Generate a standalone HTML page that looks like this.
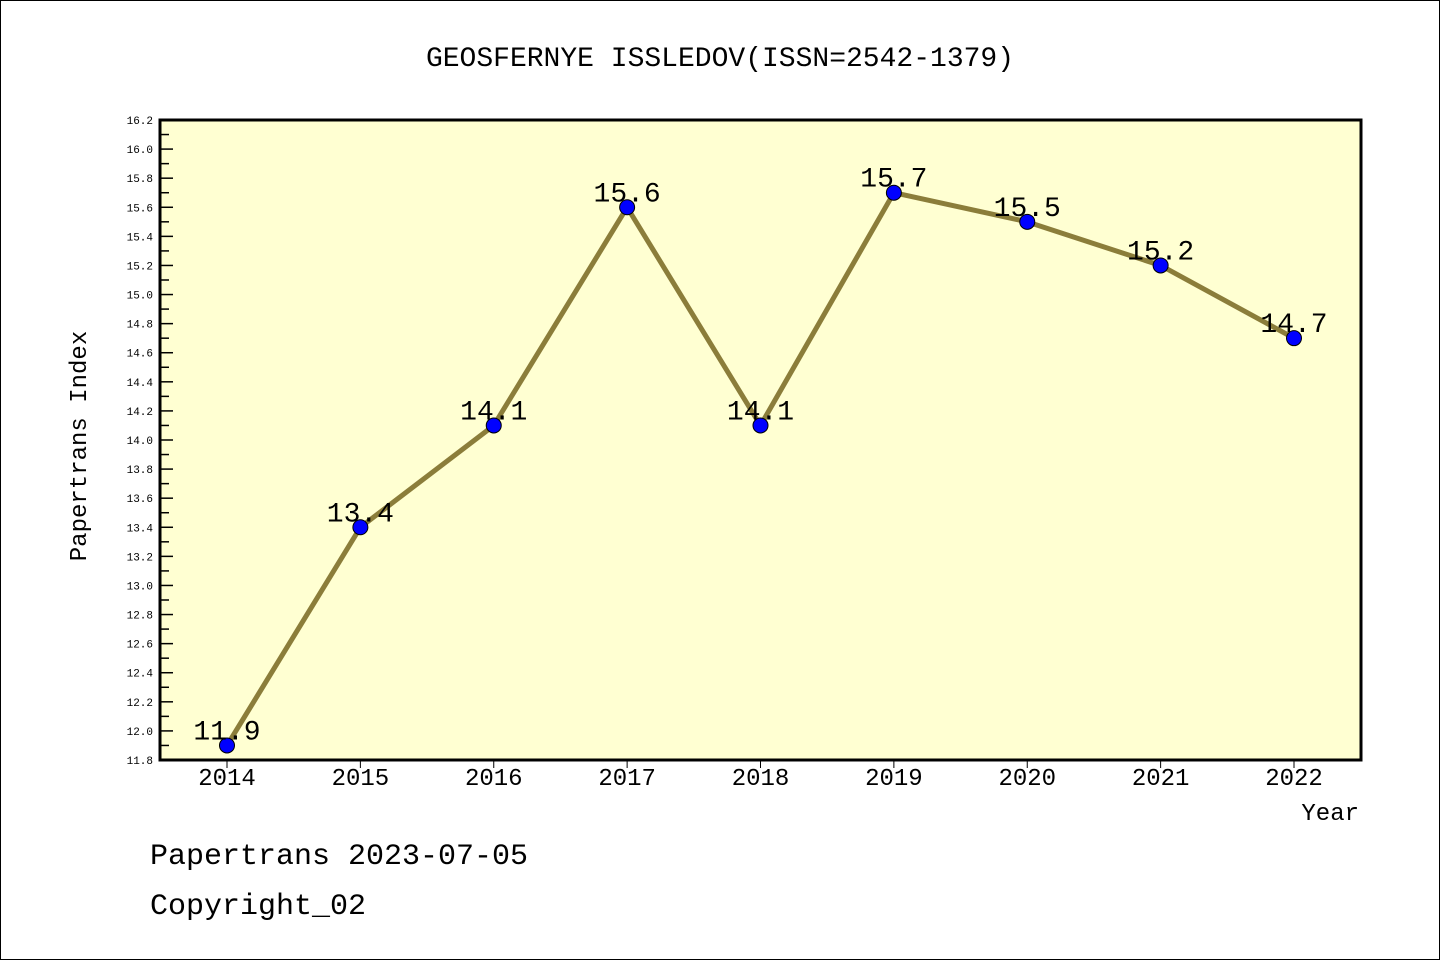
<!DOCTYPE html>
<html><head><meta charset="utf-8"><style>
html,body{margin:0;padding:0;background:#fff}
svg{display:block}
text{font-family:"Liberation Mono","DejaVu Sans Mono",monospace}
</style></head><body>
<svg id="chart" width="1440" height="960" viewBox="0 0 1440 960">
<rect x="0.5" y="0.5" width="1439" height="959" fill="#fff" stroke="#000" stroke-width="1"/>
<text x="720" y="66" font-size="28" text-anchor="middle">GEOSFERNYE ISSLEDOV(ISSN=2542-1379)</text>
<rect x="160" y="120" width="1201" height="640" fill="#ffffd2"/>
<g id="yaxis"></g>
<g id="xaxis"></g>
<g id="series"></g>
<rect x="160" y="120" width="1201" height="640" fill="none" stroke="#000" stroke-width="3"/>
<text x="86" y="446" font-size="24" text-anchor="middle" transform="rotate(-90 86 446)">Papertrans Index</text>
<text x="1359" y="820" font-size="24" text-anchor="end">Year</text>
<text x="150" y="864" font-size="30">Papertrans 2023-07-05</text>
<text x="150" y="914" font-size="30">Copyright_02</text>
</svg>
<script>
const years = ["2014","2015","2016","2017","2018","2019","2020","2021","2022"];
const values = [11.9,13.4,14.1,15.6,14.1,15.7,15.5,15.2,14.7];
const valueLabels = ["11.9","13.4","14.1","15.6","14.1","15.7","15.5","15.2","14.7"];
const yMin = 11.8, yMax = 16.2;
const NS = "http://www.w3.org/2000/svg";
function yScale(v){ return 760 - (v - yMin) / (yMax - yMin) * 640; }
function xScale(i){ return 227 + i * (1294 - 227) / (years.length - 1); }
function mk(tag, attrs, parent){ const e = document.createElementNS(NS, tag); for (const k in attrs) e.setAttribute(k, attrs[k]); parent.appendChild(e); return e; }
const yg = document.getElementById('yaxis');
for (let k = 0; k <= 44; k++) {
  const v = yMin + k * 0.1;
  const y = yScale(v);
  const major = k % 2 === 0;
  const t = mk('line', {x1:160, x2:160 + (major ? 13 : 9), y1:y, y2:y, stroke:'#000', 'stroke-width':1.5}, yg);
  
  
  if (major) {
    const l = mk('text', {x:153, y:y + 4, 'font-size':11, 'text-anchor':'end', 'font-family':'DejaVu Sans, sans-serif'}, yg);
    l.textContent = v.toFixed(1);
    
    
  }
}
const xg = document.getElementById('xaxis');
years.forEach((yr, i) => {
  const x = xScale(i);
  const t = mk('line', {x1:x, x2:x, y1:760, y2:768, stroke:'#000', 'stroke-width':1}, xg);
  
  
  const l = mk('text', {x:x, y:785, 'font-size':24, 'text-anchor':'middle'}, xg);
  l.textContent = yr;
  
  
});
const sg = document.getElementById('series');
const pts = values.map((v, i) => xScale(i) + ',' + yScale(v)).join(' ');
const pl = mk('polyline', {points:pts, fill:'none', stroke:'#8b7d3a', 'stroke-width':5, 'stroke-linejoin':'round'}, sg);


values.forEach((v, i) => {
  const c = mk('circle', {cx:xScale(i), cy:yScale(v), r:7.5, fill:'#0000ff', stroke:'#000', 'stroke-width':1}, sg);
  
  
  const l = mk('text', {x:xScale(i), y:yScale(v) - 6, 'font-size':28, 'text-anchor':'middle'}, sg);
  l.textContent = valueLabels[i];
  
  
});
</script>
</body></html>
